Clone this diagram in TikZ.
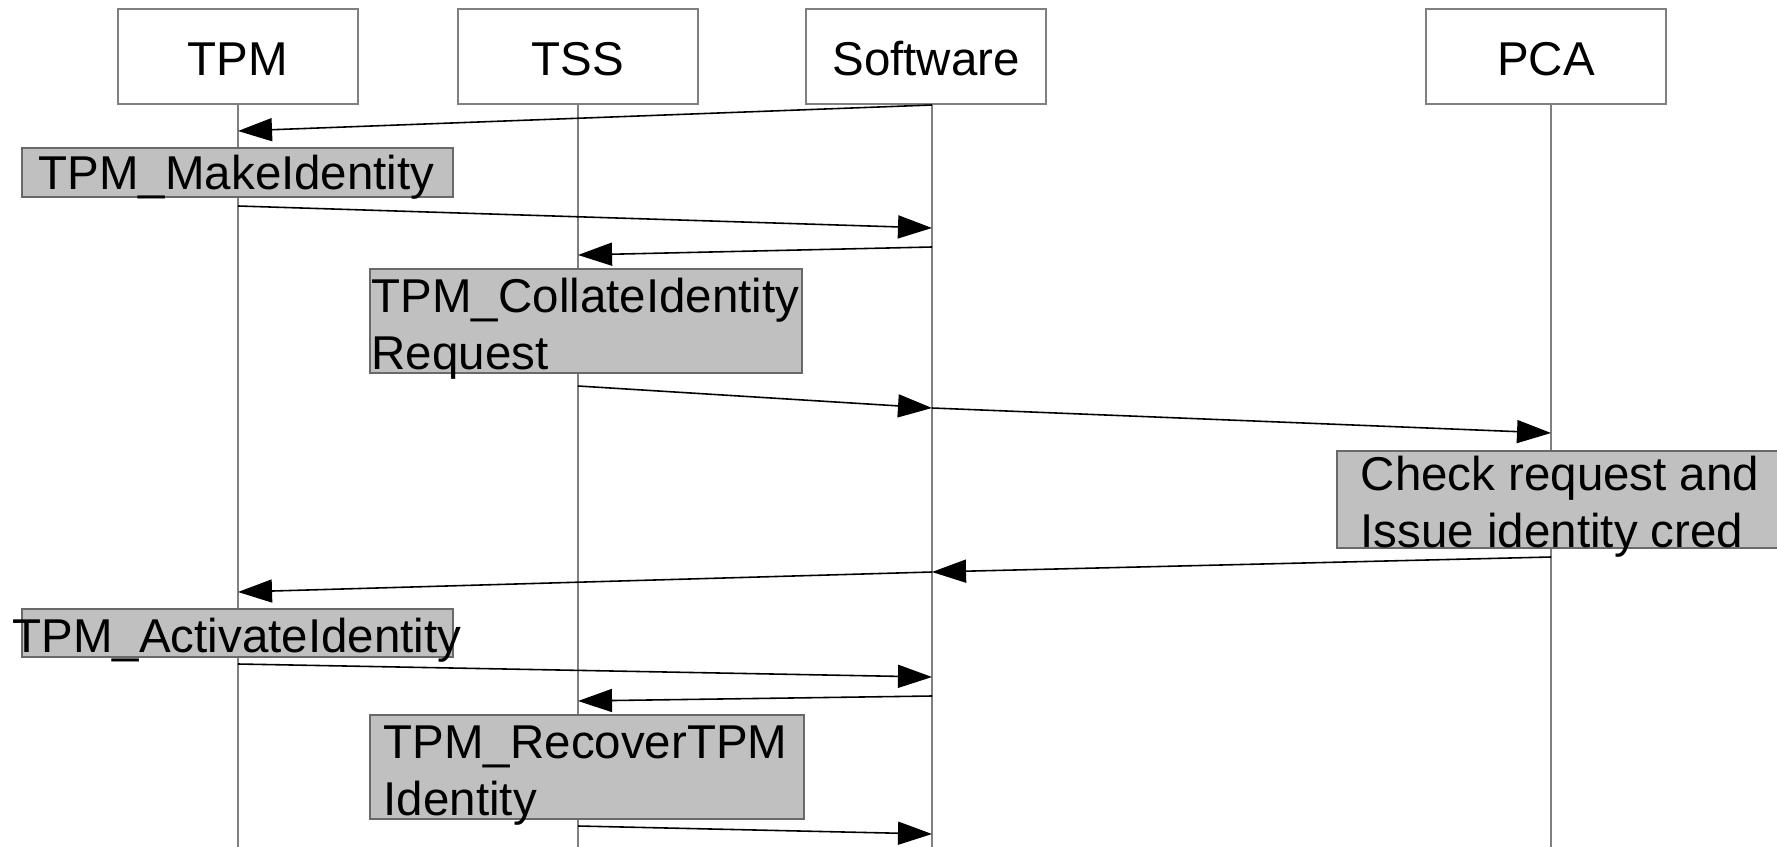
\documentclass[tikz,border=0pt]{standalone}
\usepackage{fontspec}
\setmainfont{Liberation Sans}
\usepackage{tikz}
\usetikzlibrary{calc,arrows.meta}
\usepackage{xcolor}
\definecolor{lane}{RGB}{128,128,128}
\definecolor{rim}{RGB}{105,105,105}
\definecolor{shade}{RGB}{192,192,192}
\tikzset{
  qhead/.style={draw=lane,fill=white,line width=0.5pt,minimum width=2.4cm,minimum height=0.95cm,
    inner sep=0pt,text height=10.9pt,text depth=0pt},
  qlife/.style={lane,line width=0.5pt},
  qmsg/.style={black,line width=0.45pt,-{Triangle[length=0.34cm,width=0.23cm]}},
  qop/.style={draw=rim,fill=shade,line width=0.5pt,inner sep=0pt},
  qlbl/.style={anchor=base west,inner sep=0pt,align=left},
}

\begin{document}
\begin{tikzpicture}[x=0.01cm,y=-0.01cm,font=\fontsize{13.5pt}{16.2pt}\selectfont]
  \useasboundingbox (0,0) rectangle (1777,846);
  \foreach \n/\x/\lx/\t in {tpm/238/238/TPM,tss/578/578/TSS,sw/926/932/Software,pca/1546/1551/PCA} {
    \node[qhead] (\n) at (\x,56.5) {\t};
    \coordinate (\n top) at (\lx,104);
    \coordinate (\n end) at (\lx,850);
    \draw[qlife] (\n top) -- (\n end);}
  \node[qop,minimum width=4.31cm,minimum height=0.49cm] (mk) at (237.5,172.5) {};
  \node[qlbl] (mklbl) at (38,190) {TPM\_MakeIdentity};
  \node[qop,minimum width=4.32cm,minimum height=1.04cm] (col) at (586,321) {};
  \node[qlbl] (collbl) at (371,369) {TPM\_CollateIdentity\\Request};
  \node[qop,minimum width=4.53cm,minimum height=0.97cm] (chk) at (1563.5,499.5) {};
  \node[qlbl] (chklbl) at (1360,547) {Check request and\\Issue identity cred};
  \node[qop,minimum width=4.31cm,minimum height=0.48cm] (act) at (237.5,633) {};
  \node[qlbl] (actlbl) at (12,652) {TPM\_ActivateIdentity};
  \node[qop,minimum width=4.34cm,minimum height=1.04cm] (rec) at (587,767) {};
  \node[qlbl] (reclbl) at (383,815) {TPM\_RecoverTPM\\Identity};
  \foreach \a/\b/\ya/\yb [count=\i] in {sw/tpm/105/131,tpm/sw/206/228,sw/tss/247/255,
      tss/sw/386/408,sw/pca/408/433,pca/sw/557/572,sw/tpm/572/592,tpm/sw/664/677,
      sw/tss/696/701,tss/sw/826/834} {
    \coordinate (m\i a) at (\a top |- 0,\ya);
    \coordinate (m\i b) at (\b top |- 0,\yb);
    \draw[qmsg] (m\i a) -- (m\i b);}
\end{tikzpicture}
\end{document}
